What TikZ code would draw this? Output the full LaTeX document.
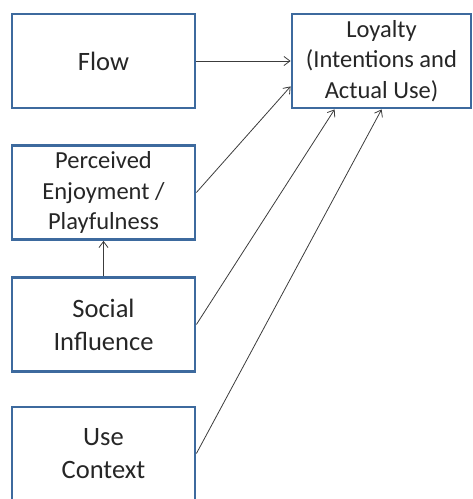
\documentclass[tikz,border=0pt]{standalone}
\usepackage{fontspec}
\setmainfont{Carlito}
\usetikzlibrary{arrows.meta}
\definecolor{boxblue}{HTML}{3D6A9E}
\definecolor{inkgray}{HTML}{262626}
\begin{document}
\begin{tikzpicture}[x=1pt,y=-1pt]
    % Node styles
    \tikzset{factor box/.style={rectangle,draw=boxblue,line width=2.8pt,fill=white,
        minimum width=183pt,minimum height=94pt,align=center,text=inkgray,
        font=\fontsize{26.5}{33}\selectfont},
      small text/.style={font=\fontsize{24.5}{30.5}\selectfont},
      link/.style={draw=inkgray!90,line width=0.8pt,-{Straight Barb[length=6pt,width=9pt]}}}

    \useasboundingbox (0,0) rectangle (473,499);
    \clip (0,0) rectangle (473,499);

    % --- Left column: the four factors ---
    \node[factor box] (flow) at (103.5,61) {Flow};
    \node[factor box, small text] (enjoy) at (103.5,192.5) {Perceived\\Enjoyment /\\Playfulness};
    \node[factor box] (social) at (103.5,324.5) {Social\\Influence};
    \node[factor box, minimum height=93pt] (context) at (103.5,453.5) {Use\\Context};

    % --- Right: the outcome ---
    \node[factor box, small text, minimum width=179pt] (loyalty) at (381.5,61)
        {Loyalty\\(Intentions and\\Actual Use)};

    % Edges into Loyalty
    \draw[link] (flow.east) -- (loyalty.west);
    \draw[link] (enjoy.east) -- ([yshift=23pt]loyalty.south west);
    \draw[link] (social.east) -- ([xshift=44pt]loyalty.south west);
    \draw[link] (context.east) -- ([xshift=91pt]loyalty.south west);

    % Social influence feeds enjoyment
    \draw[link] (social.north) -- (enjoy.south);
\end{tikzpicture}
\end{document}
